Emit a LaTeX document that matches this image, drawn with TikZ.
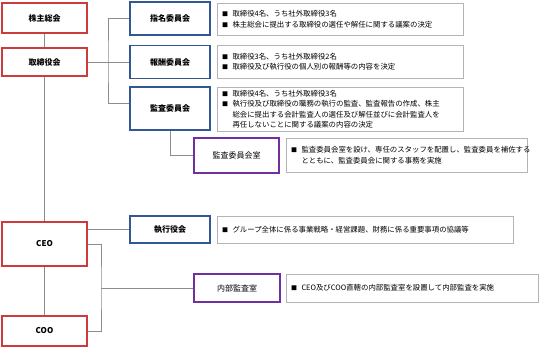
\documentclass[tikz,border=0pt]{standalone}
\usepackage{fontspec}
\setmainfont{Noto Sans CJK JP}
\usepackage{tikz}
\usetikzlibrary{positioning,calc}
\definecolor{OrgRed}{RGB}{205,60,60}
\definecolor{OrgBlue}{RGB}{50,88,148}
\definecolor{OrgPurple}{RGB}{112,48,160}
\definecolor{LineGray}{RGB}{140,140,140}
\definecolor{BoxGray}{RGB}{180,180,180}
\tikzset{
  body/.style={draw=OrgRed,line width=1.2pt,fill=white,minimum width=85pt,font=\fontsize{8}{9}\selectfont\bfseries,inner sep=0pt},
  cmte/.style={draw=OrgBlue,line width=1.5pt,fill=white,minimum width=80pt,font=\fontsize{8}{9}\selectfont\bfseries,inner sep=0pt},
  office/.style={draw=OrgPurple,line width=1.2pt,fill=white,minimum width=85pt,font=\fontsize{8}{9}\selectfont,inner sep=0pt},
  note/.style={draw=BoxGray,line width=0.8pt,fill=white,inner xsep=5pt,inner ysep=0pt,align=left,
    font=\fontsize{7.4}{10.5}\selectfont},
  link/.style={draw=LineGray,line width=0.9pt},
}
\newcommand{\bul}{{\fontsize{6}{6}\selectfont ■}\hspace{4.5pt}}
\newcommand{\ind}{\phantom{\bul}}

\begin{document}
\begin{tikzpicture}[x=1pt,y=-1pt]
\useasboundingbox (0,0) rectangle (540,347);
% left column
\node[body,minimum height=30pt] (kabu) at (44.5,18) {株主総会};
\node[body,minimum height=28pt] (tori) at (44.5,62) {取締役会};
\node[body,minimum height=44pt] (ceo) at (44.5,244) {CEO};
\node[body,minimum height=30pt] (coo) at (44.5,331) {COO};
% committees
\node[cmte,minimum height=33pt] (shimei) at (170,18.5) {指名委員会};
\node[cmte,minimum height=33pt] (houshu) at (170,62) {報酬委員会};
\node[cmte,minimum height=43pt] (kansa) at (170,108.5) {監査委員会};
\node[cmte,minimum height=27pt] (shikkou) at (170,229.5) {執行役会};
\node[office,minimum height=35pt] (kansashitsu) at (236.5,155.5) {監査委員会室};
\node[office,minimum width=86pt,minimum height=28pt] (naibu) at (237,288) {内部監査室};
% notes
\node[note,text width=236pt,minimum height=32pt] (d1) at (340,19)
  {\bul 取締役4名、うち社外取締役3名\\ \bul 株主総会に提出する取締役の選任や解任に関する議案の決定};
\node[note,text width=236pt,minimum height=33pt] (d2) at (340,61.5)
  {\bul 取締役3名、うち社外取締役2名\\ \bul 取締役及び執行役の個人別の報酬等の内容を決定};
\node[note,text width=236pt,minimum height=44pt] (d3) at (340,109)
  {\bul 取締役4名、うち社外取締役3名\\ \bul 執行役及び取締役の職務の執行の監査、監査報告の作成、株主\\
   \ind 総会に提出する会計監査人の選任及び解任並びに会計監査人を\\ \ind 再任しないことに関する議案の内容の決定};
\node[note,text width=231pt,minimum height=34pt] (d4) at (406.5,155)
  {\bul 監査委員会室を設け、専任のスタッフを配置し、監査委員を補佐する\\ \ind とともに、監査委員会に関する事務を実施};
\node[note,text width=286pt,minimum height=27pt] (d5) at (365,229.5)
  {\bul グループ全体に係る事業戦略・経営課題、財務に係る重要事項の協議等};
\node[note,text width=242pt,minimum height=28pt] (d6) at (412,288)
  {\bul CEO及びCOO直轄の内部監査室を設置して内部監査を実施};
% connectors
\coordinate (bus) at (108,62);
\coordinate (ibus) at (101,288);
\draw[link] (kabu.south) -- (tori.north);
\draw[link] (tori.south) -- (ceo.north);
\draw[link] (ceo.south) -- (coo.north);
\draw[link] (tori.east) -- (houshu.west);
\draw[link] (shimei.west) -| (bus) |- ($(kansa.west)+(0,-5.5)$);
\draw[link] (kansa.south) |- (kansashitsu.west);
\draw[link] (shikkou.west) -- (shikkou.west -| ceo.east);
\draw[link] (ceo.east) -| (ibus) |- (coo.east);
\draw[link] (ibus) -- (naibu.west);
\end{tikzpicture}
\end{document}
